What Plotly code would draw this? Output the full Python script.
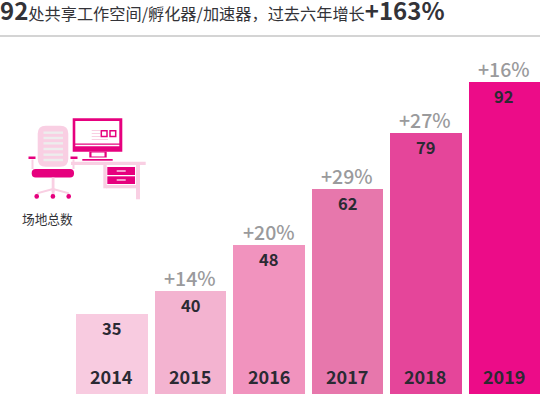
import plotly.graph_objects as go

W, H = 540, 394
FONT = "Noto Sans CJK SC"
DARK = "#2b2a33"

years = ["2014", "2015", "2016", "2017", "2018", "2019"]
venue_counts = [35, 40, 48, 62, 79, 92]
# drawn bar heights (they are not proportional to the printed counts)
drawn_heights = [80, 103, 149, 205, 261, 312]
growth_labels = ["", "+14%", "+20%", "+29%", "+27%", "+16%"]
bar_colors = ["#F8CBE0", "#F3B3D0", "#F193BE", "#E777AC", "#E5459A", "#EC0C88"]

title_lead = "92"
title_body = "处共享工作空间/孵化器/加速器，过去六年增长"
title_tail = "+163%"
icon_label = "场地总数"

fig = go.Figure(go.Bar(x=years, y=drawn_heights, marker=dict(color=bar_colors, line=dict(width=0)),
                       width=0.913, hoverinfo="skip"))

ann = []
for i, (yr, h, c, g) in enumerate(zip(years, drawn_heights, venue_counts, growth_labels)):
    ann.append(dict(x=i, y=h, xref="x", yref="y", yshift=-13.5, text=f"<b>{c}</b>", showarrow=False,
                    font=dict(family=FONT, size=16.5, color=DARK), yanchor="middle"))
    ann.append(dict(x=i, y=0, xref="x", yref="y", yshift=18, text=f"<b>{yr}</b>", showarrow=False,
                    font=dict(family=FONT, size=18, color=DARK), yanchor="middle"))
    if g:
        ann.append(dict(x=i, y=h, xref="x", yref="y", yshift=14, text=g, showarrow=False,
                        font=dict(family=FONT, size=19.5, color="#9a9a9c", weight=500), yanchor="middle"))

ann.append(dict(x=0, y=1 - 9.5 / H, xref="paper", yref="paper", xanchor="left", yanchor="middle", showarrow=False,
                xshift=-2,
                text=f"<b><span style='font-size:24px'>{title_lead}</span></b>{title_body}"
                     f"<b><span style='font-size:24px'>{title_tail}</span></b>",
                font=dict(family=FONT, size=16.2, color="#333338")))
ann.append(dict(x=20 / W, y=1 - 218.5 / H, xref="paper", yref="paper", xanchor="left", yanchor="middle",
                showarrow=False, text=icon_label, font=dict(family=FONT, size=12.7, color="#333338")))

MAG, LIGHT, PALE = "#E6007E", "#F9CFE3", "#EDEDED"
shapes = []


def px(x): return x / W
def py(y): return 1 - y / H


def rect(x0, y0, x1, y1, fill, line=None, lw=0):
    shapes.append(dict(type="rect", xref="paper", yref="paper", x0=px(x0), x1=px(x1), y0=py(y0), y1=py(y1),
                       fillcolor=fill, line=dict(color=line or fill, width=lw), layer="above"))


def rounded(x0, y0, x1, y1, r, fill):
    path = (f"M {px(x0 + r)} {py(y0)} L {px(x1 - r)} {py(y0)} Q {px(x1)} {py(y0)} {px(x1)} {py(y0 + r)} "
            f"L {px(x1)} {py(y1 - r)} Q {px(x1)} {py(y1)} {px(x1 - r)} {py(y1)} "
            f"L {px(x0 + r)} {py(y1)} Q {px(x0)} {py(y1)} {px(x0)} {py(y1 - r)} "
            f"L {px(x0)} {py(y0 + r)} Q {px(x0)} {py(y0)} {px(x0 + r)} {py(y0)} Z")
    shapes.append(dict(type="path", xref="paper", yref="paper", path=path, fillcolor=fill,
                       line=dict(width=0), layer="above"))


def stroke(path_pts, color, lw):
    p = " ".join(f"{c} {px(x)} {py(y)}" for c, x, y in path_pts)
    shapes.append(dict(type="path", xref="paper", yref="paper", path=p, line=dict(color=color, width=lw), layer="above"))


# rule under the title
shapes.append(dict(type="line", xref="paper", yref="paper", x0=0, x1=1, y0=py(36), y1=py(36),
                   line=dict(color="#a9a9a9", width=1)))
# chair
rounded(37.7, 125.7, 68.3, 166.7, 8, LIGHT)
for sy in (132.7, 138, 143.3, 149, 154.7, 160):
    rect(43.5, sy - 1.2, 63, sy + 1.2, PALE)
rect(31.5, 159.5, 33.5, 169, LIGHT)
rect(72.5, 159.5, 74.5, 169, LIGHT)
rect(28.5, 156.5, 35.5, 159, MAG)
rect(70.5, 156.5, 77.5, 159, MAG)
rounded(31.7, 169, 74, 177.5, 4, MAG)
rect(51.7, 177.5, 54.5, 192, LIGHT)
stroke([("M", 53, 189), ("L", 38, 193), ("L", 36, 197)], LIGHT, 2)
stroke([("M", 53, 189), ("L", 68, 193), ("L", 70, 197)], LIGHT, 2)
rect(51.7, 190, 54.5, 195, LIGHT)
for wx in (36.7, 52.9, 68.7):
    rounded(wx - 2.3, 194, wx + 2.3, 198.8, 2.2, MAG)
# desk
rect(71, 161.7, 145.7, 165, LIGHT)
rect(103.3, 165, 106.7, 188.3, LIGHT)
rect(136, 165, 140, 199.3, LIGHT)
rect(106, 185, 137, 188.3, LIGHT)
rect(107.3, 167, 135, 175, MAG)
rect(107.3, 176.3, 135, 184, MAG)
rect(116.7, 170.4, 125.7, 171.6, "#ffffff")
rect(116.7, 179.4, 125.7, 180.6, "#ffffff")
# monitor
rect(72.7, 118.3, 122.3, 151.7, MAG)
rect(75.3, 121, 119.3, 143.5, "#ffffff")
rect(75.3, 144.8, 119.3, 146.2, "#ffffff")
rect(91.7, 130, 100, 131, LIGHT)
rect(91.7, 133, 100, 134, LIGHT)
rect(91.7, 136, 100, 137, LIGHT)
rect(91.7, 139, 108, 140, LIGHT)
rect(101.3, 130.8, 107, 136.5, "#ffffff", MAG, 1.5)
rect(110, 130.8, 115.7, 136.5, "#ffffff", MAG, 1.5)
rect(89.3, 151.7, 106.7, 157.5, MAG)
rect(91.5, 152.5, 104.5, 156.5, "#ffffff")
rect(82.3, 159, 112.7, 160.7, MAG)

fig.update_layout(
    width=W, height=H, margin=dict(l=0, r=0, t=0, b=0), paper_bgcolor="white", plot_bgcolor="white",
    showlegend=False, bargap=0, annotations=ann, shapes=shapes,
    xaxis=dict(domain=[72.5 / W, 1], range=[-0.5, 5.46], type="category", visible=False, fixedrange=True),
    yaxis=dict(domain=[0, 1], range=[0, H], visible=False, fixedrange=True),
)
fig.write_html("out.html", config={"displayModeBar": False},
               post_script="document.body.style.margin='0';document.body.style.overflow='hidden';")
